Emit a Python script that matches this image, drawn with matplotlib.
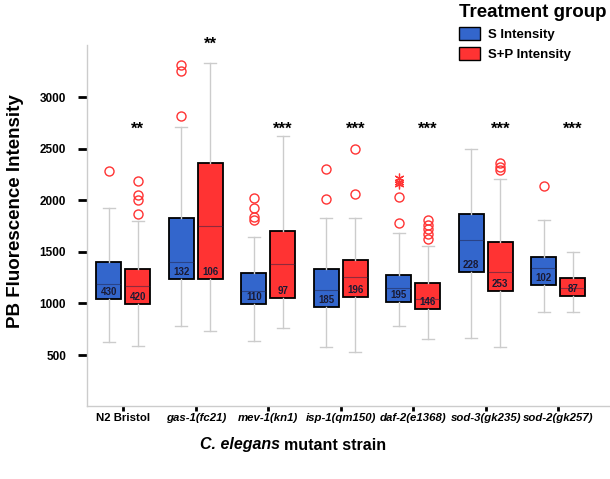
import matplotlib
matplotlib.use("Agg")
import matplotlib.pyplot as plt
from matplotlib.patches import Patch

plt.rcParams['font.family'] = ['Liberation Sans', 'DejaVu Sans']

# ---------------- data ----------------
strains = ["N2 Bristol", "gas-1(fc21)", "mev-1(kn1)", "isp-1(qm150)",
           "daf-2(e1368)", "sod-3(gk235)", "sod-2(gk257)"]
strain_italic = [False, True, True, True, True, True, True]

# S Intensity
s_q1 = [1040, 1233, 991, 969, 1017, 1301, 1182]
s_med = [1185, 1404, 1120, 1130, 1146, 1614, 1346]
s_q3 = [1404, 1831, 1292, 1330, 1278, 1866, 1450]
s_lo = [623, 781, 636, 575, 781, 662, 914]
s_hi = [1921, 2712, 1641, 1831, 1679, 2496, 1805]
s_out = [[2286], [3310, 3255, 2819], [2025, 1928, 1840, 1808], [2300, 2009],
         [2035, 1783], [], [2141]]
s_extreme = [[], [], [], [], [2212, 2180, 2157], [], []]
s_n = [430, 132, 110, 185, 195, 228, 102]

# S+P Intensity
p_q1 = [994, 1233, 1056, 1066, 946, 1124, 1075]
p_med = [1172, 1750, 1382, 1253, 1040, 1301, 1146]
p_q3 = [1330, 2357, 1698, 1421, 1195, 1592, 1243]
p_lo = [587, 730, 760, 526, 652, 575, 914]
p_hi = [1800, 3326, 2622, 1831, 1556, 2203, 1498]
p_out = [[2189, 2050, 2002, 1866], [], [], [2500, 2060],
         [1808, 1760, 1718, 1670, 1621], [2357, 2325, 2293], []]
p_extreme = [[], [], [], [], [], [], []]
p_n = [420, 106, 97, 196, 146, 253, 87]

sig_labels = ["**", "**", "***", "***", "***", "***", "***"]
sig_y = [2690, 3515, 2690, 2690, 2690, 2690, 2690]

series_names = ["S Intensity", "S+P Intensity"]
series_colors = ["#3366CC", "#FF3333"]

# ---------------- figure ----------------
fig = plt.figure(figsize=(6.1, 4.79), dpi=100)
ax = fig.add_axes([87 / 610, 73 / 479, 525.6 / 610, 361 / 479])

offset = 0.2
width = 0.35
flier_color = "#FF3333"


def make_stats(q1, med, q3, lo, hi, out):
    return [dict(q1=a, med=b, q3=c, whislo=d, whishi=e, fliers=f)
            for a, b, c, d, e, f in zip(q1, med, q3, lo, hi, out)]


all_series = [
    (s_q1, s_med, s_q3, s_lo, s_hi, s_out, s_extreme, s_n, -offset),
    (p_q1, p_med, p_q3, p_lo, p_hi, p_out, p_extreme, p_n, +offset),
]

for k, (q1, med, q3, lo, hi, out, ext, n, off) in enumerate(all_series):
    pos = [i + off for i in range(len(strains))]
    stats = make_stats(q1, med, q3, lo, hi, out)
    ax.bxp(stats, positions=pos, widths=width, patch_artist=True,
           showfliers=True, capwidths=0.16,
           boxprops=dict(facecolor=series_colors[k], edgecolor="black", linewidth=1.3),
           whiskerprops=dict(color="#cccccc", linewidth=1.0),
           capprops=dict(color="#cccccc", linewidth=1.0),
           medianprops=dict(color="#222244", linewidth=0.8, alpha=0.5),
           flierprops=dict(marker="o", markerfacecolor="none",
                           markeredgecolor=flier_color, markersize=6.5,
                           markeredgewidth=1.0, linestyle="none"),
           zorder=3)
    for i, e in enumerate(ext):
        if e:
            ax.plot([pos[i]] * len(e), e, linestyle="none", marker=(6, 2, 0),
                    markersize=7, markeredgecolor=flier_color,
                    markerfacecolor=flier_color, markeredgewidth=0.9, zorder=4)
    for i in range(len(strains)):
        ax.annotate(str(n[i]), xy=(pos[i], q1[i]), xytext=(0, 1.5),
                    textcoords="offset points", ha="center", va="bottom",
                    fontsize=7, fontweight="bold", color="#1a1a33", zorder=5)

for i, (lab, yv) in enumerate(zip(sig_labels, sig_y)):
    ax.text(i + offset, yv, lab, ha="center", va="center", fontsize=12,
            fontweight="bold", color="black", clip_on=False)

ax.set_xlim(-0.5, 6.75)
ax.set_ylim(6, 3504)
ax.set_yticks([500, 1000, 1500, 2000, 2500, 3000])
ax.set_xticks(range(len(strains)))
ax.set_xticklabels(strains)
for lbl, it in zip(ax.get_xticklabels(), strain_italic):
    lbl.set_fontweight("bold")
    lbl.set_fontsize(8.2)
    if it:
        lbl.set_fontstyle("italic")
for lbl in ax.get_yticklabels():
    lbl.set_fontweight("bold")
    lbl.set_fontsize(8.5)

ax.tick_params(axis="x", length=3.6, width=2.0, pad=1.5, color="black")
ax.tick_params(axis="y", length=6.5, width=2.0, pad=8.5, color="black")

for s in ["top", "right"]:
    ax.spines[s].set_visible(False)
for s in ["left", "bottom"]:
    ax.spines[s].set_color("#cccccc")
    ax.spines[s].set_linewidth(1.0)

# axis labels
fig.text(16 / 610, 1 - 211 / 479, "PB Fluorescence Intensity", rotation=90,
         ha="center", va="center", fontsize=13.5, fontweight="bold")
fig.text(280 / 610, 1 - 445 / 479, "C. elegans", ha="right", va="center",
         fontsize=11.5, fontweight="bold", fontstyle="italic")
fig.text(284 / 610, 1 - 445 / 479, "mutant strain", ha="left", va="center",
         fontsize=11.5, fontweight="bold")

# legend
handles = [Patch(facecolor=c, edgecolor="black", linewidth=1.0, label=nm)
           for c, nm in zip(series_colors, series_names)]
leg = fig.legend(handles=handles, title="Treatment group", loc="upper right",
                 bbox_to_anchor=(1.0, 1.0), frameon=False,
                 prop=dict(weight="bold", size=9.5),
                 title_fontproperties=dict(weight="bold", size=13.5),
                 handlelength=1.6, handleheight=1.15, handletextpad=0.6,
                 labelspacing=0.45, borderaxespad=0.15, borderpad=0.15,
                 alignment="left")

fig.savefig("out.png", dpi=100)
